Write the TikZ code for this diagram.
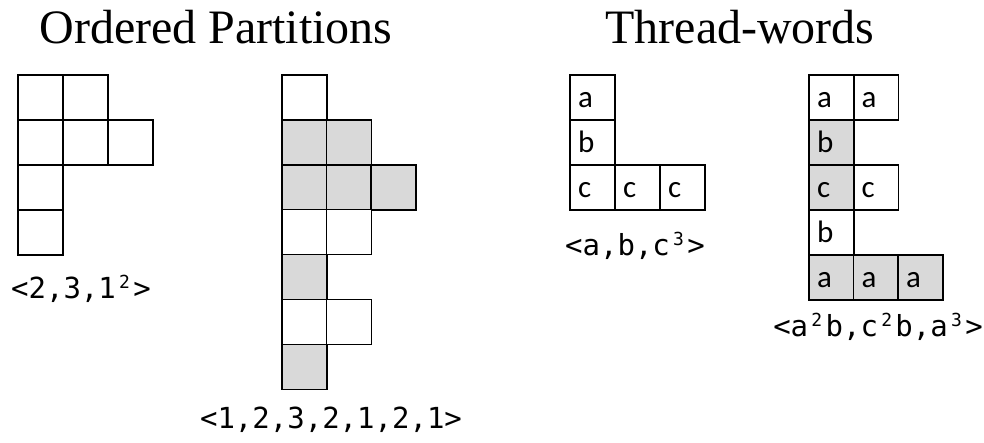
\documentclass[tikz,border=0pt]{standalone}
\usepackage{fontspec}
\newfontfamily\titlefont{Liberation Serif}
\newfontfamily\cellfont{Carlito}
\newfontfamily\wordfont{DejaVu Sans Mono}
\definecolor{cellgray}{HTML}{D9D9D9}
% a superscript digit that takes up one character cell of the mono font
\newcommand{\supdig}[1]{\makebox[0.602em][c]{\raisebox{0.33em}{\fontsize{18}{18}\selectfont #1}}}
\tikzset{
  cell/.style={draw=black, line width=1.5pt, minimum size=45pt, inner xsep=8pt,
    inner ysep=0pt, outer sep=0pt, text width=29pt, align=left,
    text height=19pt, text depth=0pt, anchor=north west,
    font=\cellfont\fontsize{31}{34}\selectfont},
  shaded/.style={fill=cellgray},
  heading/.style={anchor=base, inner sep=0pt, font=\titlefont\fontsize{48}{56}\selectfont},
  word/.style={anchor=base, inner sep=0pt, font=\wordfont\fontsize{29}{34}\selectfont}
}
\begin{document}
\begin{tikzpicture}[x=1pt, y=-1pt]
  \useasboundingbox (0,0) rectangle (984,442);

  % headings
  \node[heading] (hOP) at (216,43) {Ordered Partitions};
  \node[heading] (hTW) at (740,43) {Thread-words};

  % ordered partition <2,3,1^2>
  \foreach \r/\n in {1/2,2/3,3/1,4/1}
    \foreach \c in {1,...,\n}
      \node[cell] (opA-\r-\c) at ({18+45*(\c-1)},{75+45*(\r-1)}) {};
  \node[word] (wA) at (81,298) {<2,3,1\supdig{2}>};

  % ordered partition <1,2,3,2,1,2,1>
  \foreach \r/\n/\f in {1/1/white,2/2/cellgray,3/3/cellgray,4/2/white,5/1/cellgray,6/2/white,7/1/cellgray}
    \foreach \c in {1,...,\n}
      \node[cell, fill=\f] (opB-\r-\c) at ({282+44.5*(\c-1)},{75+44.9*(\r-1)}) {};
  \node[word] (wB) at (331,428) {<1,2,3,2,1,2,1>};

  % thread-word <a,b,c^3>
  \node[cell] (twA-1-1) at (570,75) {a};
  \node[cell] (twA-2-1) at (570,120) {b};
  \node[cell] (twA-3-1) at (570,165) {c};
  \node[cell] (twA-3-2) at (615,165) {c};
  \node[cell] (twA-3-3) at (660,165) {c};
  \node[word] (wC) at (635,255) {<a,b,c\supdig{3}>};

  % thread-word <a^2b,c^2b,a^3>
  \node[cell] (twB-1-1) at (809,75) {a};
  \node[cell] (twB-1-2) at (853.5,75) {a};
  \node[cell, shaded] (twB-2-1) at (809,120) {b};
  \node[cell, shaded] (twB-3-1) at (809,165) {c};
  \node[cell] (twB-3-2) at (853.5,165) {c};
  \node[cell] (twB-4-1) at (809,210) {b};
  \node[cell, shaded] (twB-5-1) at (809,255) {a};
  \node[cell, shaded] (twB-5-2) at (853.5,255) {a};
  \node[cell, shaded] (twB-5-3) at (898,255) {a};
  \node[word] (wD) at (878,336) {<a\supdig{2}b,c\supdig{2}b,a\supdig{3}>};
\end{tikzpicture}
\end{document}
